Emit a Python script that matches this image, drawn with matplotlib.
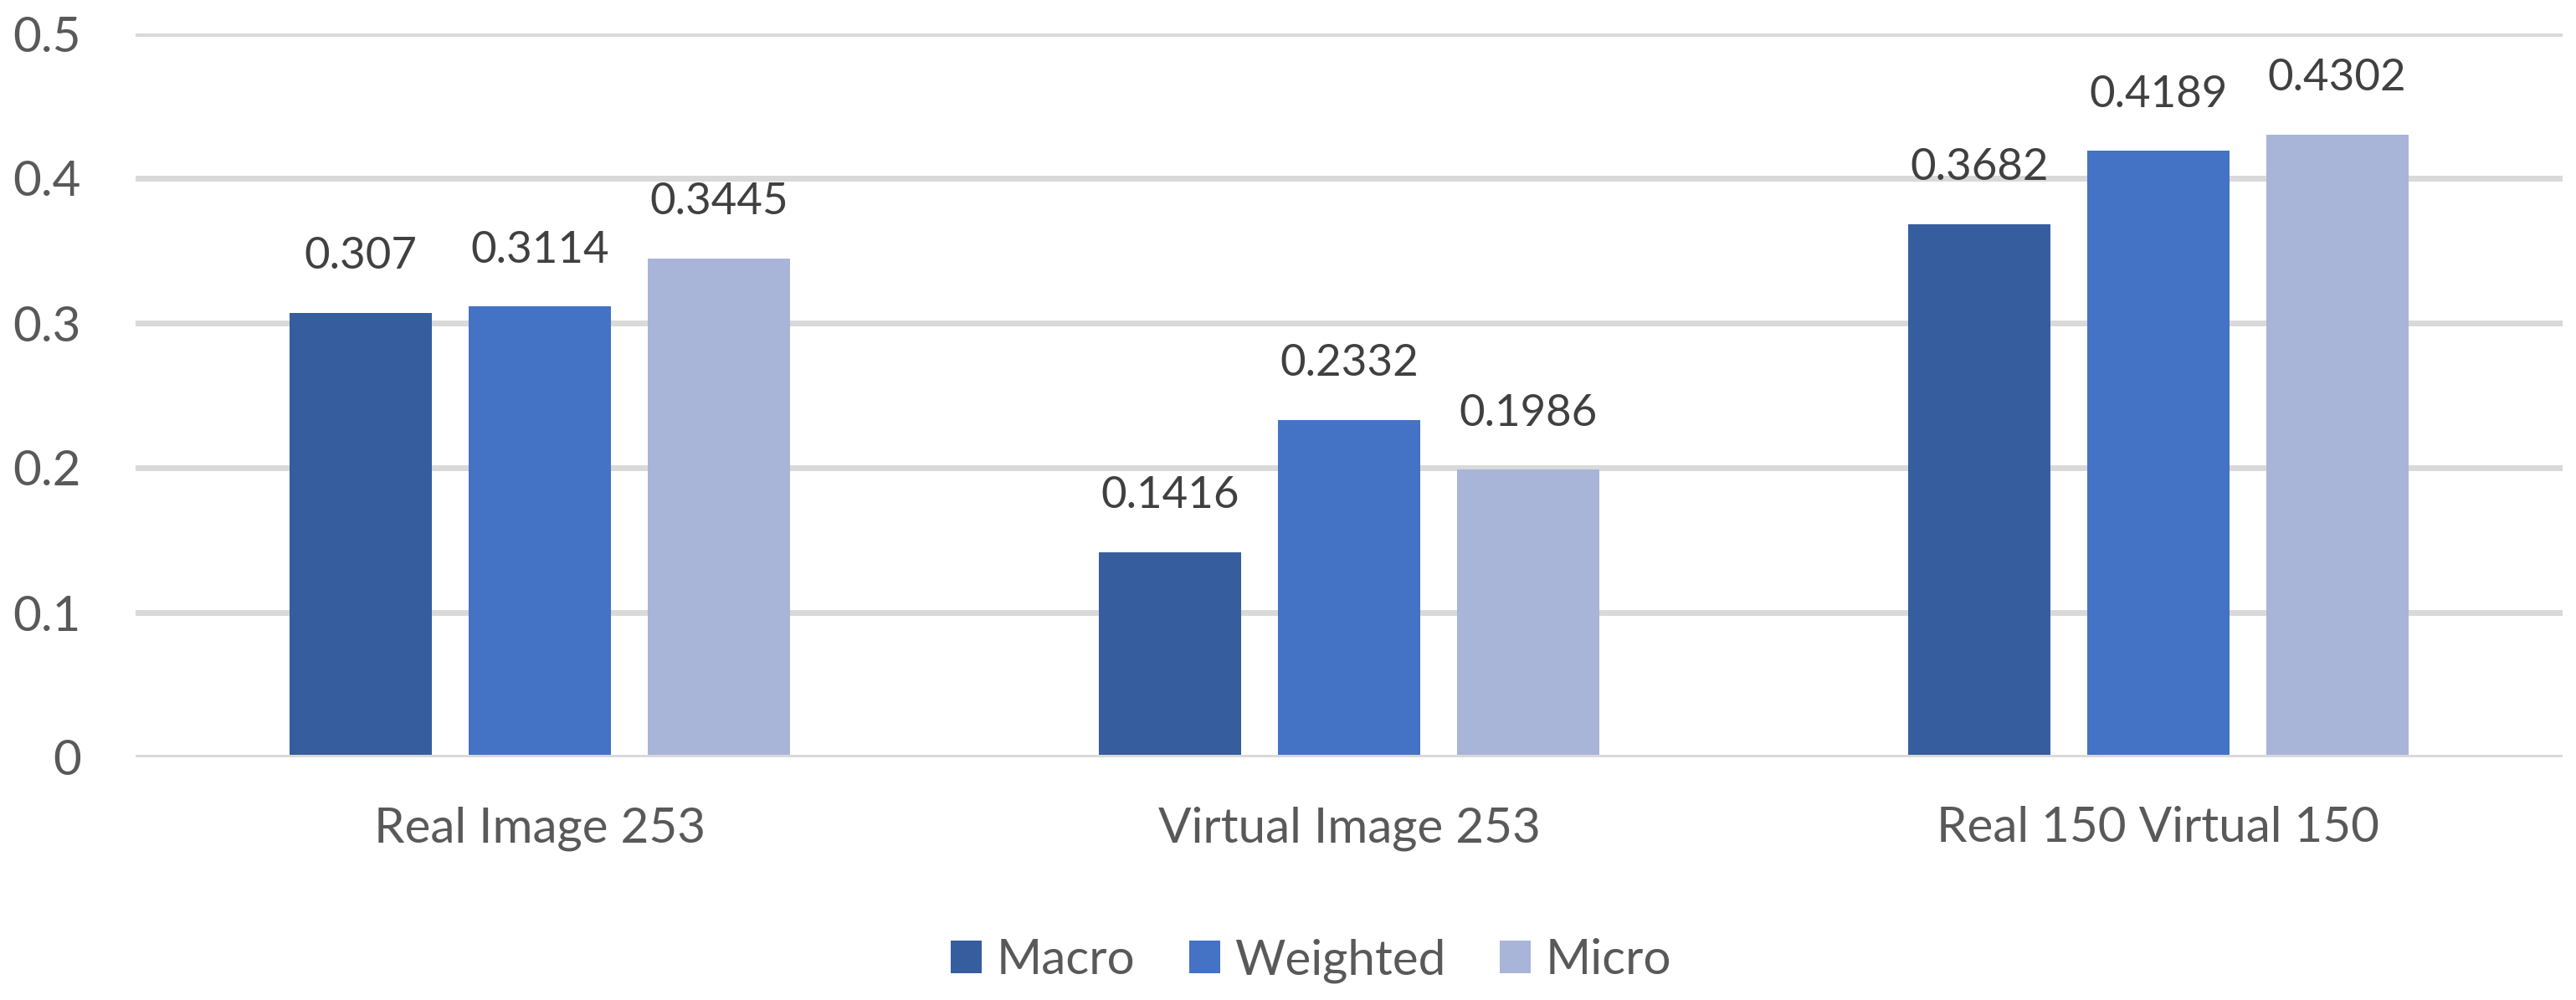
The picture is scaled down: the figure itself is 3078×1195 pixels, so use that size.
#grouped bar chart - macro / weighted / micro scores
#three training sets, values labelled on top

import matplotlib.pyplot as plt
import numpy as np

plt.rcParams['font.family'] = ['Lato', 'DejaVu Sans']

#data
categories = ['Real Image 253', 'Virtual Image 253', 'Real 150 Virtual 150']
series = ['Macro', 'Weighted', 'Micro']
macro = [0.307, 0.1416, 0.3682]
weighted = [0.3114, 0.2332, 0.4189]
micro = [0.3445, 0.1986, 0.4302]
yticks = [0, 0.1, 0.2, 0.3, 0.4, 0.5]
ytick_labels = ['0', '0.1', '0.2', '0.3', '0.4', '0.5']

colors = ['#365E9F', '#4472C4', '#A8B5D9']
grid_col = '#D9D9D9'

#setting up plot
W, H = 3078, 1195
fig = plt.figure(figsize=(W / 100, H / 100), dpi=100)
ax = fig.add_axes([162 / W, 1 - 905 / H, 2900 / W, 865 / H])

x = np.arange(len(categories))
bw = 0.176
step = 0.2214

for i, (name, vals) in enumerate(zip(series, [macro, weighted, micro])):
    bars = ax.bar(x + (i - 1) * step, vals, bw, color=colors[i], label=name, zorder=2)
    for b, v in zip(bars, vals):
        ax.annotate(str(v), (b.get_x() + b.get_width() / 2, v), xytext=(0, 38),
                    textcoords='offset points', ha='center', va='baseline',
                    fontsize=38, color='#404040')

#gridlines, zero line sits on top of the bars
for t in yticks[1:]:
    ax.axhline(t, color=grid_col, lw=5.04, zorder=1)
ax.axhline(0, color=grid_col, lw=5.04, zorder=3)

ax.set_xlim(-0.5, 2.5)
ax.set_ylim(0, 0.5)
ax.set_yticks(yticks)
ax.set_yticklabels(ytick_labels)
ax.set_xticks(x)
ax.set_xticklabels(categories)
ax.tick_params(axis='y', length=0, pad=47, labelsize=42, labelcolor='#595959')
ax.tick_params(axis='x', length=0, pad=42, labelsize=42, labelcolor='#595959')
for s in ax.spines.values():
    s.set_visible(False)

# plot style
leg = fig.legend(loc='center', bbox_to_anchor=(0.509, 1 - 1148 / H), ncol=3,
                 frameon=False, fontsize=42, handlelength=0.64, handleheight=0.64,
                 handletextpad=0.3, columnspacing=1.1)
for t in leg.get_texts():
    t.set_color('#595959')

plt.savefig('out.png', dpi=100)
